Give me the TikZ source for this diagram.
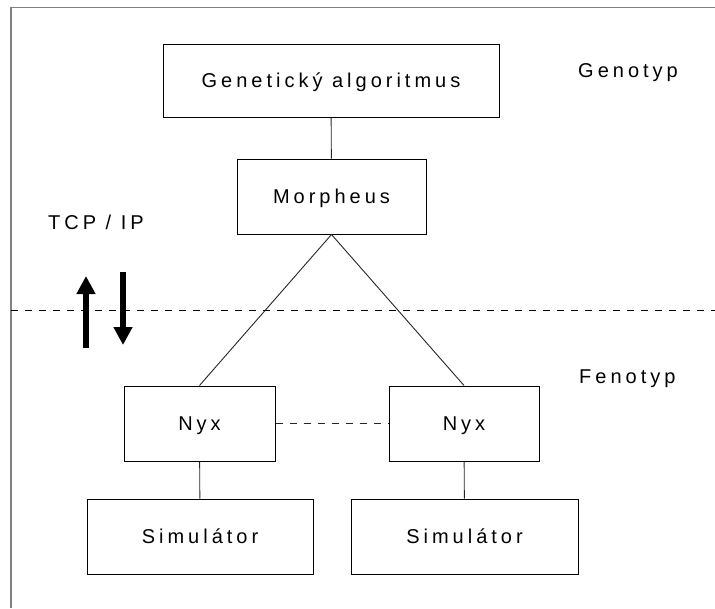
\documentclass[tikz,border=0pt]{standalone}
\usepackage{fontspec}
\setmainfont{Liberation Sans}[LetterSpace=20]
\usetikzlibrary{arrows.meta}
\begin{document}
\begin{tikzpicture}[x=1pt,y=-1pt,
  every node/.style={font=\fontsize{20}{24}\selectfont},
  box/.style={draw=black,line width=1pt,inner sep=0pt,
    text height=14.3pt,text depth=0pt,align=center},
  tag/.style={anchor=base west,inner sep=0pt},
  link/.style={line width=0.9pt,draw=black!85},
  sep/.style={line width=1pt,dash pattern=on 7pt off 7pt},
  flow/.style={line width=6pt,-{Triangle[width=18pt,length=18pt]}}]
  \useasboundingbox (0,0) rectangle (715,608);
  % page frame: top and left edges only
  \draw[gray,line width=1.4pt] (715,7.5) -- (11,7.5) -- (11,608);

  % boxes
  \node[box,minimum width=336pt,minimum height=73pt] (gen) at (331,80.5) {Genetický algoritmus};
  \node[box,minimum width=189pt,minimum height=75pt] (morph) at (331.5,196.5) {Morpheus};
  \node[box,minimum width=151pt,minimum height=75pt] (nyxL) at (199.5,423.5) {Nyx};
  \node[box,minimum width=150pt,minimum height=75pt] (nyxR) at (464,423.5) {Nyx};
  \node[box,minimum width=226pt,minimum height=75pt] (simL) at (200,536.5) {Simulátor};
  \node[box,minimum width=227pt,minimum height=75pt] (simR) at (464.5,536.5) {Simulátor};

  % connectors
  \draw[link] (gen) -- (morph);
  \draw[link] (morph.south) -- (nyxL.north);
  \draw[link] (morph.south) -- (nyxR.north);
  \draw[link] (nyxL) -- (simL);
  \draw[link] (nyxR) -- (simR);
  \draw[link,dash pattern=on 7pt off 7pt] (nyxL) -- (nyxR);

  % layer labels
  \node[tag] (geno) at (578,77) {Genotyp};
  \node[tag] (feno) at (579,383) {Fenotyp};
  \node[tag] (tcp) at (48,229) {TCP / IP};

  % layer boundary
  \coordinate (sepA) at (11,310);
  \coordinate (sepB) at (715,310);
  \draw[sep] (sepA) -- (sepB);

  % communication arrows
  \coordinate (upA) at (86,348);
  \coordinate (upB) at (86,276);
  \coordinate (dnA) at (123,272);
  \coordinate (dnB) at (123,345);
  \draw[flow] (upA) -- (upB);
  \draw[flow] (dnA) -- (dnB);
\end{tikzpicture}
\end{document}
